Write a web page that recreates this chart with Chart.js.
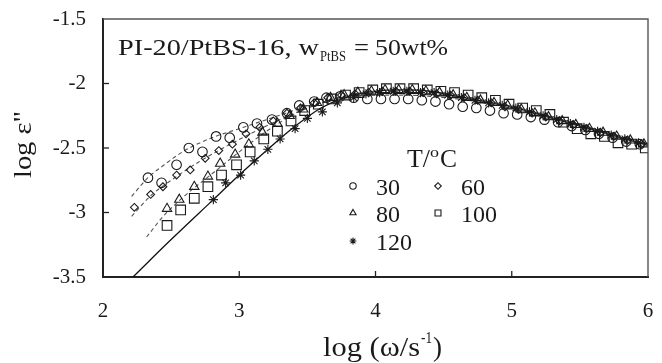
<!DOCTYPE html>
<html><head><meta charset="utf-8">
<script src="https://cdn.jsdelivr.net/npm/chart.js@4/dist/chart.umd.min.js"></script>
<style>html,body{margin:0;padding:0;background:#fff;}canvas{display:block;}</style>
</head><body>
<canvas id="c" width="662" height="363"></canvas>
<script>
// ---------- data ----------
const seriesLabels = ["30", "60", "80", "100", "120"];

const x30 = [2.33,2.43,2.54,2.63,2.73,2.83,2.93,3.03,3.13,3.24,3.35,3.44,3.55,3.64,3.74,3.84,3.94,4.04,4.14,4.24,4.34,4.44,4.54,4.64,4.74,4.84,4.94,5.04,5.14,5.24,5.34,5.44,5.54,5.64,5.74,5.84,5.94];
const y30 = [-2.73,-2.77,-2.63,-2.50,-2.53,-2.41,-2.42,-2.34,-2.31,-2.28,-2.23,-2.17,-2.14,-2.11,-2.10,-2.11,-2.12,-2.12,-2.12,-2.12,-2.13,-2.14,-2.16,-2.18,-2.19,-2.21,-2.23,-2.24,-2.26,-2.28,-2.30,-2.33,-2.36,-2.39,-2.42,-2.45,-2.47];

const x60 = [2.23,2.35,2.44,2.54,2.64,2.75,2.85,2.95,3.05,3.15,3.25,3.35,3.45,3.55,3.65,3.75,3.85,3.95,4.05,4.15,4.25,4.35,4.45,4.55,4.65,4.75,4.85,4.95,5.05,5.15,5.25,5.35,5.45,5.55,5.65,5.75,5.85,5.95];
const y60 = [-2.96,-2.86,-2.80,-2.71,-2.67,-2.58,-2.52,-2.47,-2.39,-2.34,-2.29,-2.23,-2.19,-2.15,-2.11,-2.09,-2.08,-2.07,-2.06,-2.06,-2.06,-2.07,-2.08,-2.09,-2.11,-2.13,-2.15,-2.18,-2.20,-2.23,-2.26,-2.29,-2.32,-2.35,-2.38,-2.41,-2.44,-2.47];

const x80 = [2.47,2.56,2.67,2.77,2.86,2.97,3.07,3.17,3.28,3.37,3.47,3.57,3.67,3.77,3.87,3.97,4.07,4.17,4.27,4.37,4.47,4.57,4.67,4.77,4.87,4.97,5.07,5.17,5.27,5.37,5.47,5.57,5.67,5.77,5.87,5.97];
const y80 = [-2.97,-2.90,-2.80,-2.72,-2.62,-2.55,-2.47,-2.38,-2.31,-2.25,-2.20,-2.15,-2.11,-2.09,-2.07,-2.06,-2.05,-2.05,-2.05,-2.06,-2.07,-2.09,-2.11,-2.13,-2.15,-2.17,-2.20,-2.23,-2.26,-2.29,-2.32,-2.35,-2.38,-2.41,-2.44,-2.47];

const x100 = [2.47,2.57,2.67,2.77,2.87,2.98,3.08,3.18,3.28,3.38,3.48,3.58,3.68,3.78,3.88,3.98,4.08,4.18,4.28,4.38,4.48,4.58,4.68,4.78,4.88,4.98,5.08,5.18,5.28,5.38,5.48,5.58,5.68,5.78,5.88,5.98];
const y100 = [-3.10,-2.98,-2.89,-2.80,-2.71,-2.63,-2.53,-2.43,-2.37,-2.29,-2.21,-2.16,-2.12,-2.09,-2.07,-2.05,-2.04,-2.04,-2.04,-2.05,-2.06,-2.07,-2.09,-2.11,-2.13,-2.16,-2.19,-2.21,-2.24,-2.30,-2.35,-2.39,-2.41,-2.46,-2.47,-2.50];

const x120 = [2.81,2.90,3.01,3.11,3.21,3.30,3.41,3.50,3.61,3.72,3.84,3.93,4.03,4.13,4.23,4.33,4.43,4.53,4.63,4.73,4.83,4.93,5.03,5.13,5.23,5.33,5.43,5.53,5.63,5.73,5.83,5.93];
const y120 = [-2.90,-2.77,-2.71,-2.60,-2.51,-2.43,-2.35,-2.27,-2.22,-2.15,-2.11,-2.08,-2.07,-2.06,-2.06,-2.07,-2.07,-2.09,-2.11,-2.13,-2.15,-2.17,-2.19,-2.22,-2.25,-2.28,-2.31,-2.34,-2.37,-2.40,-2.43,-2.46];

// fit curves
const fitX30 = [2.21,2.33,2.45,2.60,2.80,3.00,3.20,3.40,3.60,3.80,4.00,4.20,4.40,4.60,4.80,5.00,5.20,5.40,5.60,5.80,6.00];
const fitY30 = [-2.875,-2.73,-2.63,-2.52,-2.42,-2.35,-2.28,-2.21,-2.15,-2.11,-2.09,-2.09,-2.10,-2.12,-2.15,-2.19,-2.24,-2.30,-2.36,-2.42,-2.48];
const fitX60 = [2.21,2.35,2.50,2.70,2.90,3.10,3.30,3.50,3.70,3.90,4.10,4.30,4.50,4.70,4.90,5.10,5.30,5.50,5.70,5.90,6.00];
const fitY60 = [-3.03,-2.87,-2.75,-2.61,-2.49,-2.38,-2.28,-2.19,-2.12,-2.08,-2.07,-2.07,-2.09,-2.12,-2.16,-2.21,-2.26,-2.32,-2.38,-2.44,-2.47];
const fitX80 = [2.32,2.45,2.60,2.80,3.00,3.20,3.40,3.60,3.80,4.00,4.20,4.40,4.60,4.80,5.00,5.20,5.40,5.60,5.80,6.00];
const fitY80 = [-3.19,-3.02,-2.87,-2.70,-2.53,-2.37,-2.24,-2.15,-2.09,-2.06,-2.05,-2.06,-2.09,-2.13,-2.18,-2.23,-2.29,-2.35,-2.41,-2.47];
const fitX120 = [2.22,2.50,2.80,3.00,3.20,3.40,3.60,3.80,4.00,4.20,4.40,4.60,4.80,5.00,5.20,5.40,5.60,5.80,6.00];
const fitY120 = [-3.50,-3.21,-2.91,-2.71,-2.52,-2.34,-2.19,-2.10,-2.06,-2.05,-2.06,-2.10,-2.14,-2.18,-2.24,-2.30,-2.36,-2.42,-2.48];

const xTicks = [2, 3, 4, 5, 6];
const yTicks = [-3.5, -3, -2.5, -2, -1.5];
const xTickLabels = ["2", "3", "4", "5", "6"];
const yTickLabels = ["-3.5", "-3", "-2.5", "-2", "-1.5"];

// ---------- build ----------
const zip = (xs, ys) => xs.map((x, i) => ({x: x, y: ys[i]}));
const SERIF = "'Liberation Serif','Times New Roman',serif";
const INK = '#1a1a1a';

const markerStyles = [
  {pointStyle: 'circle', radius: 4.8, legendRadius: 3.2},
  {pointStyle: 'rectRot', radius: 3.9, legendRadius: 3.3},
  {pointStyle: 'triangle', radius: 5.4, legendRadius: 3.6},
  {pointStyle: 'rect', radius: 6.8, legendRadius: 4.2},
  {pointStyle: 'star', radius: 4.6, legendRadius: 3.4}
];
const pointSets = [[x30,y30],[x60,y60],[x80,y80],[x100,y100],[x120,y120]];

const datasets = [];
function fitSet(xs, ys, dashed) {
  return {data: zip(xs, ys), showLine: true, pointRadius: 0, borderColor: dashed ? '#555' : '#111',
    borderWidth: dashed ? 1.1 : 1.3, borderDash: dashed ? [4, 3] : [], cubicInterpolationMode: 'monotone',
    fill: false, isFit: true, order: 10};
}
datasets.push(fitSet(fitX30, fitY30, true));
datasets.push(fitSet(fitX60, fitY60, true));
datasets.push(fitSet(fitX80, fitY80, true));
datasets.push(fitSet(fitX120, fitY120, false));
pointSets.forEach((p, i) => {
  datasets.push({label: seriesLabels[i], data: zip(p[0], p[1]), showLine: false,
    pointStyle: markerStyles[i].pointStyle, pointRadius: markerStyles[i].radius,
    pointBorderColor: INK, pointBackgroundColor: 'rgba(0,0,0,0)', pointBorderWidth: 1.1,
    legendRadius: markerStyles[i].legendRadius, order: 1});
});

function drawMarker(ctx, style, r, x, y) {
  if (Chart.helpers && Chart.helpers.drawPoint) {
    Chart.helpers.drawPoint(ctx, {pointStyle: style, radius: r, rotation: 0, borderWidth: 1.1}, x, y);
  }
}
// draw text horizontally stretched to a target width (to mimic the wider original typeface)
function textFit(ctx, txt, x, y, font, targetW) {
  ctx.font = font;
  const w = ctx.measureText(txt).width;
  const s = targetW ? targetW / w : 1;
  ctx.save(); ctx.translate(x, y); ctx.scale(s, 1); ctx.fillText(txt, 0, 0); ctx.restore();
  return w * s;
}

const deco = {
  id: 'deco',
  afterDraw(chart) {
    const ctx = chart.ctx, a = chart.chartArea;
    const xs = chart.scales.x, ys = chart.scales.y;
    ctx.save();
    // top & right frame
    ctx.strokeStyle = '#555'; ctx.lineWidth = 1.4;
    ctx.beginPath(); ctx.moveTo(a.left, a.top); ctx.lineTo(a.right, a.top); ctx.lineTo(a.right, a.bottom); ctx.stroke();
    // inner ticks
    ctx.strokeStyle = '#222'; ctx.lineWidth = 1.3;
    xTicks.forEach(v => { const px = xs.getPixelForValue(v);
      if (px > a.left + 2 && px < a.right - 2) { ctx.beginPath(); ctx.moveTo(px, a.bottom); ctx.lineTo(px, a.bottom - 6); ctx.stroke(); } });
    yTicks.forEach(v => { const py = ys.getPixelForValue(v);
      if (py > a.top + 2 && py < a.bottom - 2) { ctx.beginPath(); ctx.moveTo(a.left, py); ctx.lineTo(a.left + 6, py); ctx.stroke(); } });

    ctx.fillStyle = INK; ctx.textBaseline = 'alphabetic'; ctx.textAlign = 'left';
    // annotation
    textFit(ctx, 'PI-20/PtBS-16, w', 118, 55, '24px ' + SERIF, 201);
    textFit(ctx, 'PtBS', 320, 61, '15px ' + SERIF, 26);
    textFit(ctx, '=', 354, 55, '24px ' + SERIF, 15);
    textFit(ctx, '50wt%', 375, 55, '24px ' + SERIF, 73);

    // x axis title
    textFit(ctx, 'log (\u03c9/s', 323, 356, '27px ' + SERIF, 97);
    textFit(ctx, '-1', 421, 343, '16px ' + SERIF, 11);
    textFit(ctx, ')', 433, 356, '27px ' + SERIF, 9);

    // y axis title
    ctx.save();
    ctx.translate(31, 178); ctx.rotate(-Math.PI / 2);
    textFit(ctx, 'log \u03b5"', 0, 0, '25px ' + SERIF, 67);
    ctx.restore();

    // legend
    textFit(ctx, 'T/', 407, 167, '25px ' + SERIF, 23);
    textFit(ctx, 'o', 430, 157, '15px ' + SERIF, 9);
    textFit(ctx, 'C', 440, 167, '25px ' + SERIF, 17);

    const cols = [353, 438], rows = [186, 213, 241];
    const pts = chart.data.datasets.filter(d => !d.isFit);
    pts.forEach((d, i) => {
      const cx = cols[i % 2], cy = rows[Math.floor(i / 2)];
      ctx.strokeStyle = INK; ctx.fillStyle = 'rgba(0,0,0,0)'; ctx.lineWidth = 1.1;
      drawMarker(ctx, d.pointStyle, d.legendRadius, cx, cy);
      ctx.fillStyle = INK;
      textFit(ctx, d.label, cx + 23, cy + 8.5, '24px ' + SERIF, 0);
    });
    ctx.restore();
  }
};

new Chart(document.getElementById('c'), {
  type: 'scatter',
  data: {datasets: datasets},
  options: {
    responsive: false, animation: false, devicePixelRatio: 1,
    layout: {padding: {left: 0, right: 14, top: 19, bottom: 0}},
    plugins: {legend: {display: false}, tooltip: {enabled: false}, title: {display: false}},
    scales: {
      x: {type: 'linear', min: 2, max: 6,
        afterFit(s) { s.height = 86; s.paddingLeft = 0; s.paddingRight = 0; },
        afterBuildTicks(s) { s.ticks = xTicks.map(v => ({value: v})); },
        grid: {display: false, drawTicks: false},
        border: {display: true, color: '#222', width: 2},
        ticks: {color: INK, font: {family: SERIF, size: 21}, padding: 22,
          callback: (v) => xTickLabels[xTicks.indexOf(v)]}},
      y: {type: 'linear', min: -3.5, max: -1.5,
        afterFit(s) { s.width = 103; s.paddingTop = 0; s.paddingBottom = 0; },
        afterBuildTicks(s) { s.ticks = yTicks.map(v => ({value: v})); },
        grid: {display: false, drawTicks: false},
        border: {display: true, color: '#222', width: 2},
        ticks: {color: INK, font: {family: SERIF, size: 21}, padding: 17,
          callback: (v) => yTickLabels[yTicks.indexOf(v)]}}
    }
  },
  plugins: [deco]
});
</script>
</body></html>
